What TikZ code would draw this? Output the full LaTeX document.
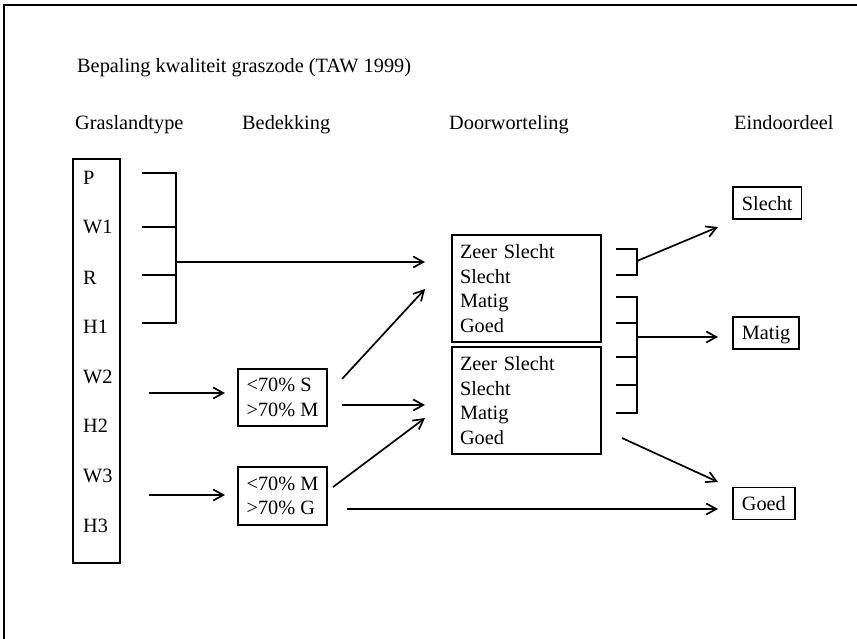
\documentclass[tikz,border=0pt]{standalone}
\usepackage{fontspec}
\setmainfont{Liberation Serif}
\usetikzlibrary{arrows.meta}

\tikzset{
  txt/.style={anchor=base west, inner sep=0pt},
  box/.style={draw, line width=1.7pt, align=left, inner ysep=0pt},
  endbox/.style={draw, line width=1.7pt, anchor=west, inner xsep=9pt, inner ysep=0pt, minimum height=32pt, text depth=0pt},
  conn/.style={line width=1.7pt},
  arr/.style={conn, -{Straight Barb[length=10pt,width=11pt]}}
}

\begin{document}
\begin{tikzpicture}[x=1pt, y=-1pt, font=\fontsize{20.3}{24.5}\selectfont]
  \useasboundingbox (0,0) rectangle (857,639);

  % Frame
  \draw[line width=1.8pt] (4,639) -- (4,5) -- (857,5);

  % Title and column heads
  \node[txt] (title) at (77,73) {Bepaling kwaliteit graszode (TAW 1999)};
  \node[txt] (hType) at (75,130) {Graslandtype};
  \node[txt] (hCover) at (242,130) {Bedekking};
  \node[txt] (hRoot) at (449,130) {Doorworteling};
  \node[txt] (hFinal) at (734,130) {Eindoordeel};

  % Graslandtype column
  \node[draw, line width=1.7pt, inner sep=0pt, minimum width=47pt, minimum height=404pt] (typebox) at (96.5,361) {};
  \node[txt] (tP) at (83,185) {P};
  \node[txt] (tW1) at (83,234) {W1};
  \node[txt] (tR) at (83,284) {R};
  \node[txt] (tH1) at (83,333) {H1};
  \node[txt] (tW2) at (83,383) {W2};
  \node[txt] (tH2) at (83,432) {H2};
  \node[txt] (tW3) at (83,482) {W3};
  \node[txt] (tH3) at (83,532) {H3};

  % Bedekking
  \node[box, inner xsep=8.5pt, minimum height=57pt] (covS) at (282.5,397.5) {<70\% S\\>70\% M};
  \node[box, inner xsep=8.5pt, minimum height=58pt] (covG) at (282.5,496) {<70\% M\\>70\% G};

  % Doorworteling
  \node[box, inner xsep=8pt, text width=133pt, minimum height=107pt] (rootA) at (526.5,288.5) {Zeer Slecht\\Slecht\\Matig\\Goed};
  \node[box, inner xsep=8pt, text width=133pt, minimum height=107pt] (rootB) at (526.5,400.5) {Zeer Slecht\\Slecht\\Matig\\Goed};

  % Eindoordeel
  \node[endbox] (endS) at (732,203) {Slecht};
  \node[endbox] (endM) at (732,333) {Matig};
  \node[endbox] (endG) at (732,503.5) {Goed};

  % Bracket P, W1, R, H1
  \coordinate (bP) at (142,173);
  \coordinate (bW1) at (142,227);
  \coordinate (bR) at (142,275);
  \coordinate (bH1) at (142,323);
  \coordinate (jType) at (176,262);
  \draw[conn] (bP) -- (bP -| jType) -- (bH1 -| jType) -- (bH1);
  \draw[conn] (bW1) -- (bW1 -| jType);
  \draw[conn] (bR) -- (bR -| jType);
  \coordinate (inA1) at (425,262);
  \draw[arr] (jType) -- (inA1);

  % W2 / H2 and W3 / H3 to Bedekking
  \coordinate (sW2) at (149,393);
  \coordinate (eW2) at (225,393);
  \coordinate (sW3) at (149,495);
  \coordinate (eW3) at (225,495);
  \draw[arr] (sW2) -- (eW2);
  \draw[arr] (sW3) -- (eW3);

  % Bedekking to Doorworteling
  \coordinate (sS1) at (342,379);
  \coordinate (inA2) at (425,289);
  \coordinate (sS2) at (342,405);
  \coordinate (inB1) at (425,405);
  \coordinate (sG1) at (333,487);
  \coordinate (inB2) at (425,418);
  \coordinate (sG2) at (347,509);
  \coordinate (inG1) at (718,509);
  \draw[arr] (sS1) -- (inA2);
  \draw[arr] (sS2) -- (inB1);
  \draw[arr] (sG1) -- (inB2);
  \draw[arr] (sG2) -- (inG1);

  % Bracket to Slecht
  \coordinate (bS1) at (616,249);
  \coordinate (bS2) at (616,275);
  \coordinate (jS) at (637,261);
  \coordinate (inS) at (718,227);
  \draw[conn] (bS1) -- (bS1 -| jS) -- (bS2 -| jS) -- (bS2);
  \draw[arr] (jS) -- (inS);

  % Bracket to Matig
  \coordinate (bM1) at (616,297);
  \coordinate (bM2) at (616,323);
  \coordinate (bM3) at (616,357);
  \coordinate (bM4) at (616,385);
  \coordinate (bM5) at (616,413);
  \coordinate (jM) at (637,337);
  \coordinate (inM) at (718,337);
  \draw[conn] (bM1) -- (bM1 -| jM) -- (bM5 -| jM) -- (bM5);
  \draw[conn] (bM2) -- (bM2 -| jM);
  \draw[conn] (bM3) -- (bM3 -| jM);
  \draw[conn] (bM4) -- (bM4 -| jM);
  \draw[arr] (jM) -- (inM);

  % To Goed
  \coordinate (sG3) at (622,438);
  \coordinate (inG2) at (718,482);
  \draw[arr] (sG3) -- (inG2);
\end{tikzpicture}
\end{document}
